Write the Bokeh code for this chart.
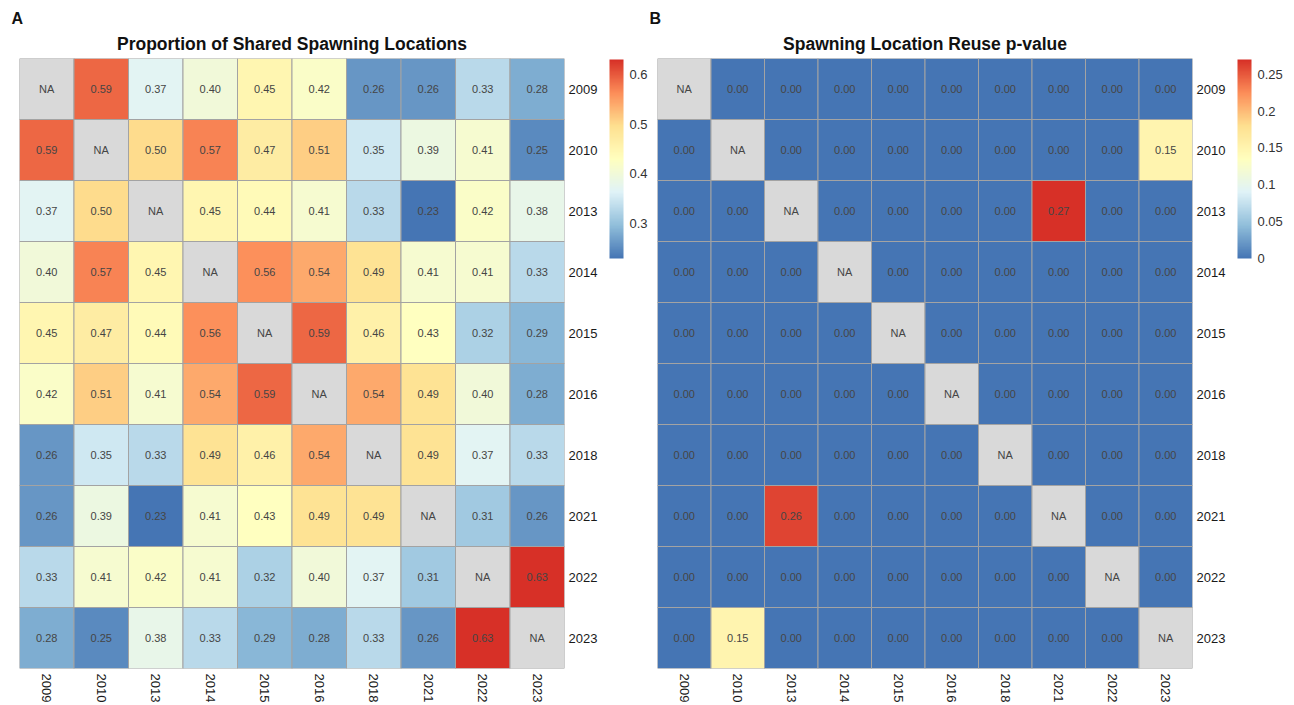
import math
import numpy as np
from bokeh.plotting import figure
from bokeh.models import (ColumnDataSource, LinearColorMapper, ColorBar, FixedTicker,
                          Title, FactorRange, CustomJSTickFormatter)
from bokeh.layouts import row
from bokeh.core.properties import value
from bokeh.embed import file_html
from bokeh.resources import INLINE

years = ["2009", "2010", "2013", "2014", "2015", "2016", "2018", "2021", "2022", "2023"]

shared = [
    [None, 0.59, 0.37, 0.40, 0.45, 0.42, 0.26, 0.26, 0.33, 0.28],
    [0.59, None, 0.50, 0.57, 0.47, 0.51, 0.35, 0.39, 0.41, 0.25],
    [0.37, 0.50, None, 0.45, 0.44, 0.41, 0.33, 0.23, 0.42, 0.38],
    [0.40, 0.57, 0.45, None, 0.56, 0.54, 0.49, 0.41, 0.41, 0.33],
    [0.45, 0.47, 0.44, 0.56, None, 0.59, 0.46, 0.43, 0.32, 0.29],
    [0.42, 0.51, 0.41, 0.54, 0.59, None, 0.54, 0.49, 0.40, 0.28],
    [0.26, 0.35, 0.33, 0.49, 0.46, 0.54, None, 0.49, 0.37, 0.33],
    [0.26, 0.39, 0.23, 0.41, 0.43, 0.49, 0.49, None, 0.31, 0.26],
    [0.33, 0.41, 0.42, 0.41, 0.32, 0.40, 0.37, 0.31, None, 0.63],
    [0.28, 0.25, 0.38, 0.33, 0.29, 0.28, 0.33, 0.26, 0.63, None],
]

pvals = [
    [None, 0.00, 0.00, 0.00, 0.00, 0.00, 0.00, 0.00, 0.00, 0.00],
    [0.00, None, 0.00, 0.00, 0.00, 0.00, 0.00, 0.00, 0.00, 0.15],
    [0.00, 0.00, None, 0.00, 0.00, 0.00, 0.00, 0.27, 0.00, 0.00],
    [0.00, 0.00, 0.00, None, 0.00, 0.00, 0.00, 0.00, 0.00, 0.00],
    [0.00, 0.00, 0.00, 0.00, None, 0.00, 0.00, 0.00, 0.00, 0.00],
    [0.00, 0.00, 0.00, 0.00, 0.00, None, 0.00, 0.00, 0.00, 0.00],
    [0.00, 0.00, 0.00, 0.00, 0.00, 0.00, None, 0.00, 0.00, 0.00],
    [0.00, 0.00, 0.26, 0.00, 0.00, 0.00, 0.00, None, 0.00, 0.00],
    [0.00, 0.00, 0.00, 0.00, 0.00, 0.00, 0.00, 0.00, None, 0.00],
    [0.00, 0.15, 0.00, 0.00, 0.00, 0.00, 0.00, 0.00, 0.00, None],
]

shared_ticks = [0.3, 0.4, 0.5, 0.6]
pval_ticks = [0.0, 0.05, 0.1, 0.15, 0.2, 0.25]
shared_limits = (0.23, 0.63)
pval_limits = (0.0, 0.27)

# RdYlBu (7 classes), low = blue, high = red
anchors = ["#4575b4", "#91bfdb", "#e0f3f8", "#ffffbf", "#fee090", "#fc8d59", "#d73027"]


def make_palette(hexes, n=256):
    rgb = np.array([[int(h[i:i + 2], 16) for i in (1, 3, 5)] for h in hexes], dtype=float)
    pos = np.linspace(0, 1, len(hexes))
    t = np.linspace(0, 1, n)
    out = []
    for tt in t:
        c = [np.interp(tt, pos, rgb[:, k]) for k in range(3)]
        out.append("#%02x%02x%02x" % tuple(int(round(v)) for v in c))
    return out


palette = make_palette(anchors)
FONT = "Liberation Sans"
FRAME_H = 610


def panel(matrix, title, letter, ticks, limits, frame_w, min_left):
    xs, ys, vals, labels = [], [], [], []
    for i, ry in enumerate(years):
        for j, cx in enumerate(years):
            v = matrix[i][j]
            xs.append(cx)
            ys.append(ry)
            vals.append(np.nan if v is None else v)
            labels.append("NA" if v is None else f"{v:.2f}")
    src = ColumnDataSource(dict(x=xs, y=ys, v=np.array(vals, dtype=float), lab=labels))
    mapper = LinearColorMapper(palette=palette, low=limits[0], high=limits[1],
                               nan_color="#d9d9d9")

    p = figure(x_range=FactorRange(*years), y_range=FactorRange(*list(reversed(years))),
               frame_width=frame_w, frame_height=FRAME_H, y_axis_location="right",
               output_backend="svg", toolbar_location=None,
               min_border_left=min_left, min_border_right=0,
               min_border_top=58, min_border_bottom=0)
    p.rect(x="x", y="y", width=1, height=1, source=src,
           fill_color={"field": "v", "transform": mapper},
           line_color="#a3a3a3", line_width=1)
    p.text(x="x", y="y", text="lab", source=src, text_align="center",
           text_baseline="middle", text_font_size="11px", text_color="#454545",
           text_font=value(FONT))

    # panel letter (outermost title)
    p.title.text = letter
    p.title.align = "left"
    p.title.offset = -8
    p.title.text_font = FONT
    p.title.text_font_size = "16px"
    p.title.text_font_style = "bold"
    p.title.text_color = "#111111"
    p.title.standoff = 2
    # main title (closest to the frame)
    p.add_layout(Title(text=title, align="center", text_font=FONT,
                       text_font_size="17.5px", text_font_style="bold",
                       text_color="#111111", standoff=9), "above")

    p.grid.visible = False
    p.outline_line_color = None
    for ax in (p.xaxis, p.yaxis):
        ax.axis_line_color = None
        ax.major_tick_line_color = None
        ax.minor_tick_line_color = None
        ax.major_tick_out = 0
        ax.major_tick_in = 0
        ax.major_label_text_font = FONT
        ax.major_label_text_font_size = "13px"
        ax.major_label_text_color = "#1a1a1a"
    p.xaxis.major_label_orientation = -math.pi / 2
    p.xaxis.major_label_standoff = 5
    p.yaxis.major_label_standoff = 4

    cb = ColorBar(color_mapper=mapper, ticker=FixedTicker(ticks=ticks),
                  formatter=CustomJSTickFormatter(code="return String(+tick.toFixed(3));"),
                  width=14, height=199, padding=0, margin=0, label_standoff=6,
                  major_label_text_font=FONT, major_label_text_font_size="13px",
                  major_label_text_color="#333333", major_tick_line_color=None,
                  bar_line_color=None, border_line_color=None,
                  background_fill_color=None, location=(9, FRAME_H - 200))
    p.add_layout(cb, "right")
    return p


pa = panel(shared, "Proportion of Shared Spawning Locations", "A",
           shared_ticks, shared_limits, 545, 19)
pb = panel(pvals, "Spawning Location Reuse p-value", "B",
           pval_ticks, pval_limits, 535, 7)

layout = row(pa, pb)
open("out.html", "w").write(file_html(layout, INLINE))
